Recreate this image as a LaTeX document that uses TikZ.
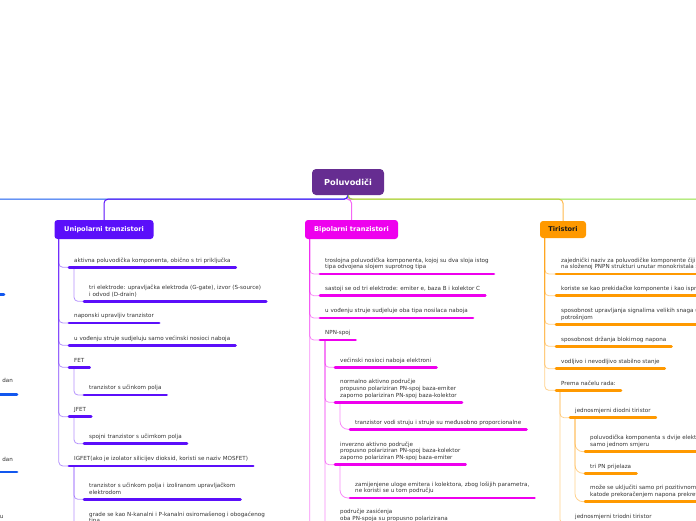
\documentclass[tikz,border=0pt]{standalone}
\usepackage{fontspec}
\setmainfont{DejaVu Sans}
\usetikzlibrary{positioning, calc}

\definecolor{rootcol}{HTML}{662D91}
\definecolor{unicol}{HTML}{5B0FFA}
\definecolor{bipcol}{HTML}{EE00EE}
\definecolor{tircol}{HTML}{FF9900}
\definecolor{leftcol}{HTML}{1257EE}
\definecolor{rightcol}{HTML}{8EE03C}
\definecolor{txtcol}{HTML}{333333}
\definecolor{txtdark}{HTML}{1A1A1A}

\tikzset{
  topic/.style={rounded corners=3pt, minimum height=19pt, inner sep=0pt, text=white,
    font=\fontsize{6.6}{7.5}\selectfont\bfseries},
  leaf/.style={anchor=south west, align=left, inner xsep=5pt, inner ysep=2.9pt, text=txtcol,
    font=\fontsize{5.6}{6.7}\selectfont, execute at end node=\strut,
    append after command={(\tikzlastnode.south west) edge[draw=#1, line width=2.8pt, line cap=round] (\tikzlastnode.south east)}},
  link/.style={draw=#1, opacity=0.45, line width=0.8pt, rounded corners=4pt},
  toplink/.style={draw=#1, line width=1pt, rounded corners=4pt},
  frag/.style={text=txtcol, font=\fontsize{5.6}{6.7}\selectfont, inner sep=0pt},
  leftbar/.style={draw=leftcol, line width=2.8pt, line cap=round}
}

\begin{document}
\begin{tikzpicture}[x=1pt, y=-1pt]
    \useasboundingbox (0,0) rectangle (696,520);
    \clip (0,0) rectangle (696,520);

    \node[topic, fill=rootcol, minimum width=72pt, minimum height=26pt, rounded corners=4pt,
      font=\fontsize{8.2}{9.5}\selectfont\bfseries] (root) at (348,182) {Poluvodiči};
    \node[topic, fill=unicol, minimum width=99pt] (uni) at (104,229.5) {Unipolarni tranzistori};
    \node[topic, fill=bipcol, minimum width=93pt] (bip) at (351.5,229.5) {Bipolarni tranzistori};
    \node[topic, fill=tircol, minimum width=46pt, minimum height=17pt, text=txtdark] (tir) at (563,229.5) {Tiristori};

    \coordinate (leftend) at (-10,199);
    \coordinate (rightend) at (706,199);
    \draw[toplink=tircol!70] (root.south) -- ++(0,4) -| (tir.north);
    \draw[toplink=bipcol!60] (root.south) -- ++(0,4) -| (bip.north);
    \draw[toplink=leftcol] (root.south) -- ++(0,4) -- (leftend);
    \draw[toplink=unicol] (root.south) -- ++(0,4) -| (uni.north);
    \draw[toplink=rightcol] (root.south) -- ++(0,4) -- (rightend);

    % Unipolarni tranzistori
    \node[leaf=unicol] (u1) at (69,267.3) {aktivna poluvodička komponenta, obično s tri priključka};
    \node[leaf=unicol] (u1a) at (84,301.3) {tri elektrode: upravljačka elektroda (G-gate), izvor (S-source)\\i odvod (D-drain)};
    \node[leaf=unicol] (u2) at (69,323) {naponski upravljiv tranzistor};
    \node[leaf=unicol] (u3) at (69,345.3) {u vođenju struje sudjeluju samo većinski nosioci naboja};
    \node[leaf=unicol] (u4) at (69,367.3) {FET};
    \node[leaf=unicol] (u4a) at (84,395) {tranzistor s učinkom polja};
    \node[leaf=unicol] (u5) at (69,416.7) {JFET};
    \node[leaf=unicol] (u5a) at (84,443.7) {spojni tranzistor s učimkom polja};
    \node[leaf=unicol] (u6) at (69,466) {IGFET(ako je izolator silicijev dioksid, koristi se naziv MOSFET)};
    \node[leaf=unicol] (u6a) at (84,499.3) {tranzistor s učinkom polja i izoliranom upravljačkom\\elektrodom};
    \node[leaf=unicol] (u6b) at (84,528) {grade se kao N-kanalni i P-kanalni osiromašenog i obogaćenog\\tipa};

    \draw[link=unicol] ([xshift=4.5pt]uni.south west) |- (u1.south west);
    \draw[link=unicol] ([xshift=4.5pt]uni.south west) |- (u2.south west);
    \draw[link=unicol] ([xshift=4.5pt]uni.south west) |- (u3.south west);
    \draw[link=unicol] ([xshift=4.5pt]uni.south west) |- (u4.south west);
    \draw[link=unicol] ([xshift=4.5pt]uni.south west) |- (u5.south west);
    \draw[link=unicol] ([xshift=4.5pt]uni.south west) |- (u6.south west);
    \draw[link=unicol] ([xshift=5pt]u1.south west) |- (u1a.south west);
    \draw[link=unicol] ([xshift=5pt]u4.south west) |- (u4a.south west);
    \draw[link=unicol] ([xshift=5pt]u5.south west) |- (u5a.south west);
    \draw[link=unicol] ([xshift=5pt]u6.south west) |- (u6a.south west);
    \draw[link=unicol] ([xshift=5pt]u6.south west) |- (u6b.south west);

    % Bipolarni tranzistori
    \node[leaf=bipcol] (b1) at (320,274) {troslojna poluvodička komponenta, kojoj su dva sloja istog\\tipa odvojena slojem suprotnog tipa};
    \node[leaf=bipcol] (b2) at (320,295.7) {sastoji se od tri elektrode: emiter e, baza B i kolektor C};
    \node[leaf=bipcol] (b3) at (320,318) {u vođenju struje sudjeluje oba tipa nosilaca naboja};
    \node[leaf=bipcol] (b4) at (320,340) {NPN-spoj};
    \node[leaf=bipcol] (b4a) at (335,367.3) {većinski nosioci naboja elektroni};
    \node[leaf=bipcol] (b4b) at (335,402.3) {normalno aktivno područje\\propusno polariziran PN-spoj baza-emiter\\zaporno polariziran PN-spoj baza-kolektor};
    \node[leaf=bipcol] (b4b1) at (350,429.3) {tranzistor vodi struju i struje su međusobno proporcionalne};
    \node[leaf=bipcol] (b4c) at (335,464.7) {inverzno aktivno područje\\propusno polariziran PN-spoj baza-kolektor\\zaporno polariziran PN-spoj baza-emiter};
    \node[leaf=bipcol] (b4c1) at (350,498) {zamijenjene uloge emitera i kolektora, zbog lošijih parametra,\\ne koristi se u tom području};
    \node[leaf=bipcol] (b4d) at (335,525.7) {područje zasićenja\\oba PN-spoja su propusno polarizirana};
    \coordinate (bipmore) at (310,530);

    \draw[link=bipcol] ([xshift=5pt]bip.south west) |- (b1.south west);
    \draw[link=bipcol] ([xshift=5pt]bip.south west) |- (b2.south west);
    \draw[link=bipcol] ([xshift=5pt]bip.south west) |- (b3.south west);
    \draw[link=bipcol] ([xshift=5pt]bip.south west) |- (b4.south west);
    \draw[link=bipcol] ([xshift=5pt]bip.south west) |- (bipmore);
    \draw[link=bipcol] ([xshift=5pt]b4.south west) |- (b4a.south west);
    \draw[link=bipcol] ([xshift=5pt]b4.south west) |- (b4b.south west);
    \draw[link=bipcol] ([xshift=5pt]b4.south west) |- (b4c.south west);
    \draw[link=bipcol] ([xshift=5pt]b4.south west) |- (b4d.south west);
    \draw[link=bipcol, rounded corners=8pt] ([xshift=5pt]b4b.south west) |- (b4b1.south west);
    \draw[link=bipcol, rounded corners=8pt] ([xshift=5pt]b4c.south west) |- (b4c1.south west);

    % Tiristori
    \node[leaf=tircol] (t1) at (556,274) {zajednički naziv za poluvodičke komponente čiji se rad temelji\\na složenoj PNPN strukturi unutar monokristala silicija};
    \node[leaf=tircol] (t2) at (556,295.7) {koriste se kao prekidačke komponente i kao ispravljači};
    \node[leaf=tircol] (t3) at (556,324.3) {sposobnost upravljanja signalima velikih snaga uz malu\\potrošnjom};
    \node[leaf=tircol] (t4) at (556,346.3) {sposobnost držanja blokirnog napona};
    \node[leaf=tircol] (t5) at (556,368.7) {vodljivo i nevodljivo stabilno stanje};
    \node[leaf=tircol] (t6) at (556,390.3) {Prema načelu rada:};
    \node[leaf=tircol] (t6a) at (570,417.7) {jednosmjerni diodni tiristor};
    \node[leaf=tircol] (t6a1) at (585,451.7) {poluvodička komponenta s dvije elektrode koja vodi struju u\\samo jednom smjeru};
    \node[leaf=tircol] (t6a2) at (585,473.3) {tri PN prijelaza};
    \node[leaf=tircol] (t6a3) at (585,501.7) {može se uključiti samo pri pozitivnom naponu anode prema\\katode prekoračenjem napona prekretanja};
    \node[leaf=tircol] (t6b) at (570,523.6) {jednosmjerni triodni tiristor};

    \draw[link=tircol] ([xshift=5pt]tir.south west) |- (t1.south west);
    \draw[link=tircol] ([xshift=5pt]tir.south west) |- (t2.south west);
    \draw[link=tircol] ([xshift=5pt]tir.south west) |- (t3.south west);
    \draw[link=tircol] ([xshift=5pt]tir.south west) |- (t4.south west);
    \draw[link=tircol] ([xshift=5pt]tir.south west) |- (t5.south west);
    \draw[link=tircol] ([xshift=5pt]tir.south west) |- (t6.south west);
    \draw[link=tircol] ([xshift=4pt]t6.south west) |- (t6a.south west);
    \draw[link=tircol] ([xshift=4pt]t6.south west) |- (t6b.south west);
    \draw[link=tircol, rounded corners=8pt] ([xshift=5pt]t6a.south west) |- (t6a1.south west);
    \draw[link=tircol, rounded corners=8pt] ([xshift=5pt]t6a.south west) |- (t6a2.south west);
    \draw[link=tircol, rounded corners=8pt] ([xshift=5pt]t6a.south west) |- (t6a3.south west);

    % cut-off branch on the left
    \node[frag, anchor=east] (lf1) at (13,380) {dan};
    \node[frag, anchor=east] (lf2) at (13,459) {dan};
    \node[frag, anchor=east] (lf3) at (3.5,517) {u};
    \draw[leftbar] (-5,294.7) -- (4,294.7);
    \draw[leftbar] (-5,394.7) -- (17,394.7);
    \draw[leftbar] (-5,472) -- (17,472);
\end{tikzpicture}
\end{document}
